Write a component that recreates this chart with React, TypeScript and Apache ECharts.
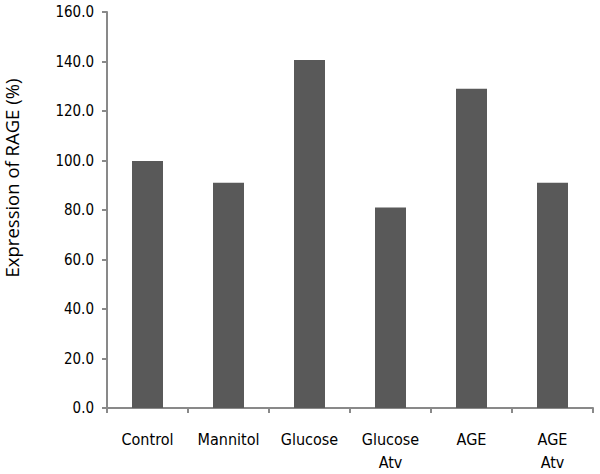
import React, { useEffect, useRef } from "react";
import * as echarts from "echarts";

const categories = ["Control", "Mannitol", "Glucose", "Glucose\nAtv", "AGE", "AGE\nAtv"];
const values = [99.8, 91.0, 140.6, 81.0, 129.0, 91.0];
const yTicks = { min: 0, max: 160, interval: 20 };
const yTitle = "Expression of RAGE (%)";

const narrow = "'Liberation Sans Narrow', 'Arial Narrow', 'DejaVu Sans Condensed', sans-serif";

export default function App() {
  const ref = useRef<HTMLDivElement>(null);
  useEffect(() => {
    const chart = echarts.init(ref.current!, null, { renderer: "svg" });
    chart.setOption({
      animation: false,
      grid: { left: 107, right: 7, top: 12, bottom: 66, containLabel: false, outerBoundsMode: "none" },
      xAxis: {
        type: "category",
        data: categories,
        axisLine: { lineStyle: { color: "#898989", width: 2 } },
        axisTick: { show: true, length: 5, lineStyle: { color: "#898989", width: 2 } },
        axisLabel: {
          color: "#000",
          fontFamily: narrow,
          fontSize: 16,
          margin: 20,
          lineHeight: 23,
          interval: 0,
          verticalAlign: "top",
        },
      },
      yAxis: {
        type: "value",
        min: yTicks.min,
        max: yTicks.max,
        interval: yTicks.interval,
        name: yTitle,
        nameLocation: "middle",
        nameGap: 85,
        nameTextStyle: {
          color: "#000",
          fontFamily: "Open Sans",
          fontSize: 18.5,
          lineHeight: 22,
          padding: [0, 0, 0, 64],
        },
        splitLine: { show: false },
        axisLine: { show: true, lineStyle: { color: "#898989", width: 2 } },
        axisTick: { show: true, length: 5, lineStyle: { color: "#898989", width: 2 } },
        axisLabel: {
          color: "#000",
          fontFamily: narrow,
          fontSize: 15,
          margin: 13,
          formatter: (v: number) => v.toFixed(1),
        },
      },
      series: [
        {
          type: "bar",
          data: values,
          barWidth: 31,
          itemStyle: { color: "#595959" },
        },
      ],
    });
    return () => chart.dispose();
  }, []);
  return <div ref={ref} style={{ width: 600, height: 474, position: "absolute", left: 0, top: 0 }} />;
}
